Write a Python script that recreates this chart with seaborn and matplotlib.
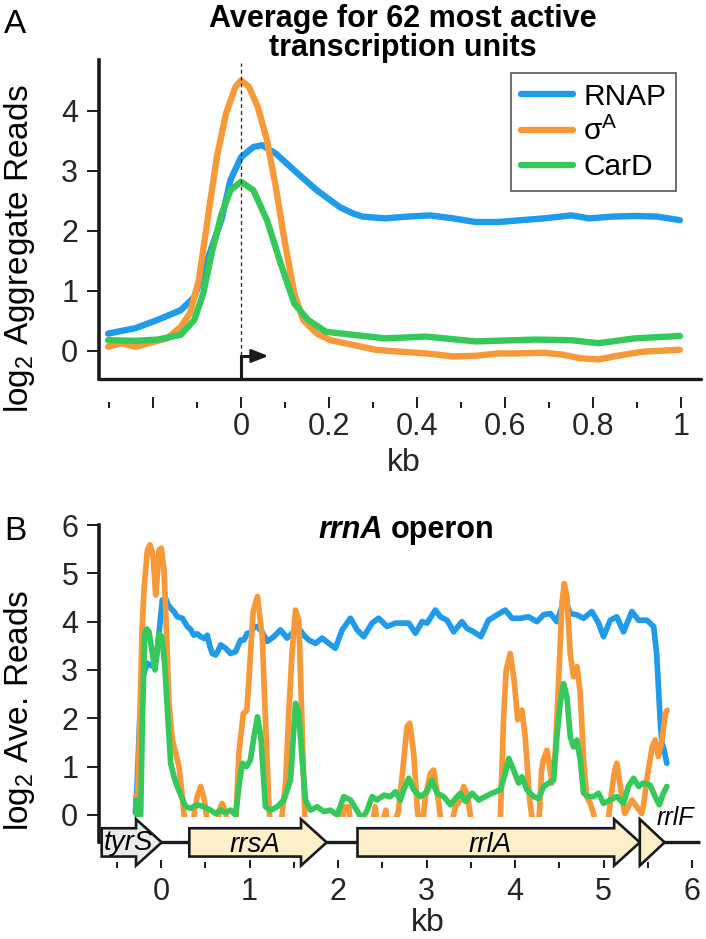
import numpy as np
import pandas as pd
import seaborn as sns
import matplotlib.pyplot as plt
from matplotlib.patches import Polygon, Rectangle
from matplotlib.ticker import FixedLocator

# %% panel A: average of 62 most active TUs (kb from TSS vs log2 aggregate reads)
rnap_a_kb = [-0.302, -0.240, -0.189, -0.137, -0.106, -0.075, -0.044, -0.024, 0.0, 0.028, 0.048, 0.079,
             0.121, 0.172, 0.224, 0.255, 0.276, 0.327, 0.378, 0.430, 0.482, 0.533, 0.585, 0.636,
             0.688, 0.750, 0.791, 0.843, 0.894, 0.946, 0.997]
rnap_a = [0.29, 0.38, 0.52, 0.68, 0.90, 1.55, 2.20, 2.85, 3.23, 3.40, 3.43, 3.29,
          3.01, 2.68, 2.40, 2.29, 2.24, 2.21, 2.24, 2.26, 2.21, 2.15, 2.15, 2.18,
          2.21, 2.26, 2.21, 2.24, 2.25, 2.24, 2.18]
sigA_a_kb = [-0.302, -0.271, -0.240, -0.209, -0.168, -0.137, -0.116, -0.096, -0.075, -0.055, -0.034, -0.013,
             0.0, 0.018, 0.038, 0.059, 0.079, 0.100, 0.121, 0.141, 0.172, 0.203, 0.255, 0.306,
             0.358, 0.420, 0.482, 0.533, 0.585, 0.636, 0.688, 0.729, 0.770, 0.812, 0.863, 0.915, 0.997]
sigA_a = [0.07, 0.13, 0.07, 0.13, 0.21, 0.40, 0.63, 1.18, 2.24, 3.23, 3.96, 4.40,
          4.51, 4.40, 4.07, 3.51, 2.73, 1.79, 0.96, 0.52, 0.29, 0.18, 0.10, 0.02,
          -0.01, -0.04, -0.09, -0.08, -0.04, -0.04, -0.03, -0.06, -0.12, -0.14, -0.07, -0.01, 0.02]
card_a_kb = [-0.302, -0.240, -0.189, -0.137, -0.106, -0.086, -0.065, -0.044, -0.024, 0.0, 0.028, 0.059,
             0.090, 0.121, 0.152, 0.193, 0.255, 0.327, 0.420, 0.533, 0.667, 0.750, 0.812, 0.894, 0.997]
card_a = [0.18, 0.17, 0.19, 0.27, 0.52, 0.96, 1.68, 2.29, 2.68, 2.82, 2.68, 2.18,
          1.46, 0.79, 0.52, 0.32, 0.27, 0.21, 0.24, 0.16, 0.19, 0.18, 0.13, 0.21, 0.25]
a_ticks = [-0.2, 0.0, 0.2, 0.4, 0.6, 0.8, 1.0]
a_ticklabels = ["", "0", "0.2", "0.4", "0.6", "0.8", "1"]
a_minor = [-0.3, -0.1, 0.1, 0.3, 0.5, 0.7, 0.9]

# %% panel B: rrnA operon
rnap_b_kb = [-0.29, -0.27, -0.24, -0.20, -0.154, -0.12, -0.079, -0.05, -0.022, 0.015, 0.053, 0.08, 0.109,
             0.15, 0.184, 0.241, 0.297, 0.33, 0.372, 0.41, 0.448, 0.49, 0.523, 0.55, 0.58, 0.617, 0.645,
             0.674, 0.73, 0.786, 0.843, 0.899, 0.937, 0.974, 1.01, 1.05, 1.09, 1.14, 1.2, 1.275, 1.35,
             1.425, 1.5, 1.557, 1.614, 1.67, 1.746, 1.82, 1.896, 1.97, 2.047, 2.14, 2.216, 2.29, 2.385,
             2.46, 2.554, 2.65, 2.7, 2.8, 2.875, 2.95, 3.006, 3.1, 3.157, 3.232, 3.307, 3.4, 3.458,
             3.533, 3.615, 3.7, 3.796, 3.89, 3.966, 4.06, 4.153, 4.248, 4.32, 4.398, 4.473, 4.53, 4.567,
             4.624, 4.7, 4.775, 4.868, 4.944, 5.0, 5.076, 5.15, 5.226, 5.32, 5.396, 5.49, 5.566, 5.6,
             5.62, 5.64, 5.66, 5.685, 5.715]
rnap_b = [0.05, 0.6, 2.0, 2.9, 3.14, 3.1, 3.07, 3.3, 3.76, 4.45, 4.48, 4.35, 4.28,
          4.2, 4.10, 4.07, 3.90, 3.85, 3.72, 3.75, 3.69, 3.65, 3.72, 3.5, 3.34, 3.31, 3.4,
          3.52, 3.45, 3.34, 3.38, 3.62, 3.62, 3.76, 3.76, 3.88, 3.90, 3.79, 3.59, 3.69, 3.83,
          3.66, 3.79, 3.86, 3.72, 3.62, 3.55, 3.66, 3.55, 3.45, 3.83, 4.07, 3.83, 3.69, 3.97,
          4.07, 3.90, 3.97, 3.97, 3.97, 3.76, 4.0, 3.97, 4.24, 4.10, 4.03, 3.79, 4.0, 3.86,
          3.79, 3.69, 4.03, 4.14, 4.24, 4.07, 4.07, 4.10, 4.0, 4.14, 4.17, 4.0, 4.31, 4.45,
          4.17, 4.14, 4.07, 4.21, 3.97, 3.69, 4.03, 4.10, 3.79, 4.21, 4.03, 4.03, 3.90, 3.34,
          2.66, 1.97, 1.48, 1.34, 1.07]
sigA_b_kb = [-0.285, -0.27, -0.245, -0.215, -0.19, -0.154, -0.124, -0.1, -0.086, -0.06, -0.04, -0.022, 0.004,
             0.034, 0.064, 0.09, 0.128, 0.166, 0.203, 0.229, 0.26, 0.29, 0.36, 0.38, 0.41, 0.448, 0.49,
             0.52, 0.54, 0.63, 0.66, 0.69, 0.73, 0.76, 0.843, 0.86, 0.88, 0.93, 0.97, 1.0, 1.04, 1.09,
             1.144, 1.18, 1.22, 1.24, 1.35, 1.38, 1.41, 1.44, 1.48, 1.52, 1.557, 1.58, 1.614, 1.63,
             2.03, 2.06, 2.08, 2.12, 2.15, 2.38, 2.42, 2.45, 2.5, 2.54, 2.56, 2.6, 2.68, 2.73, 2.78,
             2.81, 2.855, 2.9, 2.93, 2.96, 2.987, 3.044, 3.08, 3.138, 3.175, 3.27, 3.326, 3.383, 3.42,
             3.466, 3.515, 3.83, 3.87, 3.9, 3.946, 3.99, 4.03, 4.078, 4.115, 4.165, 4.21, 4.266, 4.3,
             4.32, 4.36, 4.40, 4.416, 4.454, 4.49, 4.53, 4.556, 4.586, 4.624, 4.66, 4.7, 4.737, 4.775,
             4.81, 4.85, 4.887, 4.92, 5.04, 5.08, 5.12, 5.15, 5.19, 5.24, 5.28, 5.32, 5.376, 5.43,
             5.45, 5.5, 5.55, 5.583, 5.62, 5.66, 5.7, 5.72]
sigA_b = [0.38, 0.0, 1.5, 3.8, 4.72, 5.48, 5.59, 5.45, 5.28, 4.55, 5.0, 5.48, 5.52,
          5.07, 3.69, 2.31, 1.55, 1.28, 1.0, 0.59, 0.03, -0.3, -0.3, 0.1, 0.38, 0.59, 0.31,
          -0.1, -0.3, -0.3, 0.1, 0.24, 0.05, -0.3, -0.3, 0.5, 1.28, 2.1, 2.17, 3.0, 4.2, 4.52,
          3.69, 1.97, 0.17, -0.3, -0.3, 0.2, 0.72, 1.97, 3.34, 4.24, 4.03, 2.66, 0.59, -0.3,
          -0.3, 0.05, 0.17, 0.17, -0.3, -0.3, 0.17, -0.3, -0.2, 0.10, -0.3, -0.3, 0.05, 0.9, 1.83,
          1.90, 1.28, 0.03, -0.3, -0.1, 0.38, 0.86, 0.93, 0.24, -0.3, -0.3, 0.17, 0.31, 0.59,
          0.38, -0.3, -0.3, 1.97, 3.0, 3.34, 2.79, 1.97, 2.17, 1.62, 0.31, -0.3, -0.3, 0.93,
          1.14, 1.34, 0.9, 0.66, 1.28, 2.66, 4.38, 4.79, 4.52, 3.34, 2.86, 3.07, 2.52, 1.14,
          0.38, 0.24, 0.03, -0.3, -0.3, 0.31, 0.86, 1.07, 0.59, 0.03, 0.17, 0.31, 0.17, 0.03,
          0.17, 0.86, 1.41, 1.55, 1.21, 1.55, 2.10, 2.17]
card_b_kb = [-0.285, -0.27, -0.23, -0.21, -0.184, -0.16, -0.135, -0.098, -0.068, -0.045, -0.022, 0.008, 0.041,
             0.079, 0.109, 0.147, 0.184, 0.23, 0.28, 0.335, 0.41, 0.485, 0.56, 0.617, 0.674, 0.73, 0.786,
             0.843, 0.88, 0.918, 0.967, 1.01, 1.05, 1.09, 1.128, 1.18, 1.24, 1.313, 1.388, 1.463, 1.52,
             1.557, 1.595, 1.633, 1.69, 1.765, 1.84, 1.915, 1.99, 2.065, 2.14, 2.235, 2.27, 2.33, 2.385,
             2.44, 2.517, 2.59, 2.65, 2.705, 2.742, 2.8, 2.855, 2.93, 3.006, 3.06, 3.12, 3.194, 3.27,
             3.326, 3.383, 3.44, 3.515, 3.59, 3.664, 3.74, 3.834, 3.89, 3.93, 3.984, 4.04, 4.078, 4.135,
             4.21, 4.266, 4.323, 4.38, 4.435, 4.473, 4.51, 4.548, 4.586, 4.624, 4.66, 4.7, 4.737, 4.775,
             4.83, 4.887, 4.944, 5.0, 5.076, 5.15, 5.226, 5.28, 5.34, 5.396, 5.45, 5.526, 5.583, 5.63,
             5.676, 5.715]
card_b = [0.31, 0.0, 0.0, 1.97, 3.76, 3.85, 3.79, 3.34, 3.0, 3.4, 3.76, 3.69, 3.14,
          1.97, 1.07, 0.79, 0.59, 0.38, 0.17, 0.14, 0.21, 0.17, 0.10, 0.03, 0.10, 0.05, 0.10,
          0.0, 0.59, 1.07, 1.0, 1.14, 1.62, 2.03, 1.62, 0.17, 0.10, 0.17, 0.31, 0.72, 2.31,
          2.10, 1.14, 0.31, 0.10, 0.17, 0.07, 0.10, 0.0, 0.38, 0.31, 0.03, -0.1, 0.10, 0.38,
          0.31, 0.41, 0.38, 0.48, 0.31, 0.52, 0.76, 0.52, 0.38, 0.48, 0.72, 0.45, 0.38, 0.21,
          0.34, 0.45, 0.28, 0.45, 0.31, 0.38, 0.45, 0.52, 0.86, 1.17, 0.93, 0.66, 0.79, 0.52,
          0.38, 0.34, 0.59, 0.66, 0.72, 1.62, 2.31, 2.72, 2.45, 1.62, 1.41, 1.55, 1.14, 0.45,
          0.38, 0.38, 0.45, 0.24, 0.31, 0.38, 0.24, 0.59, 0.76, 0.59, 0.66, 0.62, 0.38, 0.21,
          0.45, 0.59]
b_ticks = [0, 1, 2, 3, 4, 5, 6]
b_minor = [-0.5, 0.5, 1.5, 2.5, 3.5, 4.5, 5.5]

# genes in the rrnA region (kb)
gene_names = ["tyrS", "rrsA", "rrlA", "rrlF"]
gene_start = [-0.67, 0.32, 2.22, 5.41]
gene_end = [0.008, 1.872, 5.41, 5.69]

colors = {"RNAP": "#1E9BEA", "sigA": "#F89939", "CarD": "#35C85B"}

sns.set_theme(style="white")
plt.rcParams["font.family"] = ["Liberation Sans", "DejaVu Sans"]
plt.rcParams["mathtext.fontset"] = "custom"
plt.rcParams["mathtext.rm"] = "Liberation Sans"
plt.rcParams["mathtext.it"] = "Liberation Sans:italic"
plt.rcParams["mathtext.bf"] = "Liberation Sans:bold"
plt.rcParams["text.color"] = "black"

W, H = 706, 939
fig = plt.figure(figsize=(W / 100, H / 100), dpi=100)

def box(l, t, r, b):
    return [l / W, 1 - b / H, (r - l) / W, (b - t) / H]

tick_fs = 22
# %% panel A
ax = fig.add_axes(box(98.6, 60, 701, 379))
lw_a = 4.6
sns.lineplot(x=rnap_a_kb, y=rnap_a, ax=ax, color=colors["RNAP"], lw=lw_a, label="RNAP")
sns.lineplot(x=sigA_a_kb, y=sigA_a, ax=ax, color=colors["sigA"], lw=lw_a, label=r"σ$^\mathregular{A}$")
sns.lineplot(x=card_a_kb, y=card_a, ax=ax, color=colors["CarD"], lw=lw_a, label="CarD")
ax.set_xlim(-0.3236, 1.045)
ax.set_ylim(-0.467, 4.85)
ax.plot([0, 0], [-0.06, 4.8], color="k", lw=0.9, ls=(0, (3, 2.5)))
ax.plot([0, 0, 0.04], [-0.467, -0.083, -0.083], color="k", lw=2.2, solid_joinstyle="miter",
        solid_capstyle="butt", clip_on=False)
ax.annotate("", xy=(0.062, -0.083), xytext=(0.03, -0.083),
            arrowprops=dict(arrowstyle="-|>,head_length=1.0,head_width=0.4", color="k",
                            lw=2.0, mutation_scale=10, shrinkA=0, shrinkB=0))
ax.axhline(-0.467, color="k", lw=2.4, clip_on=False)
for s in ["top", "right"]:
    ax.spines[s].set_visible(False)
ax.spines["left"].set_linewidth(2.6)
ax.spines["left"].set_color("k")
ax.spines["bottom"].set_color("none")
ax.spines["bottom"].set_position(("outward", 20.9))
ax.xaxis.set_major_locator(FixedLocator(a_ticks))
ax.xaxis.set_minor_locator(FixedLocator(a_minor))
ax.set_xticklabels(a_ticklabels)
ax.set_yticks([0, 1, 2, 3, 4])
ax.tick_params(axis="x", which="major", direction="in", length=8, width=1.4, color="k",
               labelsize=tick_fs, pad=3.2, bottom=True)
ax.tick_params(axis="x", which="minor", direction="in", length=4.5, width=1.4, color="k", bottom=True)
ax.tick_params(axis="y", direction="out", length=8.6, width=1.4, color="k", labelsize=tick_fs,
               pad=6.0, left=True)
ax.set_xlabel("kb", fontsize=23)
ax.xaxis.set_label_coords(0.507, -0.215)
leg = ax.legend(loc="upper right", bbox_to_anchor=(0.9585, 0.959), borderaxespad=0, fontsize=21.5,
                frameon=True, fancybox=False, edgecolor="k", handlelength=1.75, handletextpad=0.35,
                borderpad=0.32, labelspacing=0.22)
leg.get_frame().set_linewidth(1.1)
for h in leg.get_lines():
    h.set_linewidth(lw_a)

fig.text(20 / W, 1 - 249 / H, r"log$_\mathregular{2}$ Aggregate Reads", rotation=90,
         ha="center", va="center", fontsize=24)
fig.text(403 / W, 1 - 26.7 / H, "Average for 62 most active", ha="center", va="baseline",
         fontsize=22, fontweight="bold")
fig.text(403 / W, 1 - 56 / H, "transcription units", ha="center", va="baseline",
         fontsize=22, fontweight="bold")
fig.text(4 / W, 1 - 33 / H, "A", ha="left", va="baseline", fontsize=24)

# %% panel B
bx = fig.add_axes(box(98.6, 525, 700, 868))
lw_b = 4.1
clip = Rectangle((-0.705, -0.05), 7.0, 6.2, transform=bx.transData)
for xs, ys, key in [(rnap_b_kb, rnap_b, "RNAP"), (sigA_b_kb, sigA_b, "sigA"), (card_b_kb, card_b, "CarD")]:
    sns.lineplot(x=xs, y=ys, ax=bx, color=colors[key], lw=lw_b, legend=False)
    bx.lines[-1].set_clip_path(clip)
bx.set_xlim(-0.705, 6.09)
bx.set_ylim(-1.097, 6)

c, bh, hh, hl = -0.567, 0.293, 0.48, 0.29
bx.plot([-0.705, 6.09], [c, c], color="k", lw=2.4, solid_capstyle="butt", clip_on=False)
for name, s, e in zip(gene_names, gene_start, gene_end):
    if e - s > hl + 0.01:
        verts = [(s, c - bh), (e - hl, c - bh), (e - hl, c - hh), (e, c), (e - hl, c + hh),
                 (e - hl, c + bh), (s, c + bh)]
    else:
        verts = [(s, c - hh), (e, c), (s, c + hh)]
    fc = "#EBEBEB" if name == "tyrS" else "#FDF0C9"
    bx.add_patch(Polygon(verts, closed=True, fc=fc, ec="k", lw=1.9, joinstyle="miter",
                         clip_on=False, zorder=3))
bx.text(-0.373, -0.73, "tyrS", style="italic", fontsize=20, ha="center", va="baseline", zorder=4)
bx.text(1.062, -0.77, "rrsA", style="italic", fontsize=20, ha="center", va="baseline", zorder=4)
bx.text(3.72, -0.77, "rrlA", style="italic", fontsize=20, ha="center", va="baseline", zorder=4)
bx.text(5.81, -0.207, "rrlF", style="italic", fontsize=18, ha="center", va="baseline", zorder=4)

for s in ["top", "right"]:
    bx.spines[s].set_visible(False)
bx.spines["left"].set_linewidth(2.6)
bx.spines["left"].set_color("k")
bx.spines["left"].set_bounds(c, 6)
bx.spines["bottom"].set_color("none")
bx.xaxis.set_major_locator(FixedLocator(b_ticks))
bx.xaxis.set_minor_locator(FixedLocator(b_minor))
bx.set_yticks([0, 1, 2, 3, 4, 5, 6])
bx.tick_params(axis="x", which="major", direction="in", length=6, width=1.4, color="k",
               labelsize=tick_fs, pad=6.5, bottom=True)
bx.tick_params(axis="x", which="minor", direction="in", length=4, width=1.4, color="k", bottom=True)
bx.tick_params(axis="y", direction="out", length=8.6, width=1.4, color="k", labelsize=tick_fs,
               pad=6.0, left=True)
bx.set_xlabel("kb", fontsize=23)
bx.xaxis.set_label_coords(0.547, -0.118)
fig.text(19.5 / W, 1 - 710 / H, r"log$_\mathregular{2}$ Ave. Reads", rotation=90,
         ha="center", va="center", fontsize=24)
fig.text(383 / W, 1 - 538 / H, "rrnA", ha="right", va="baseline", fontsize=22, fontweight="bold",
         style="italic")
fig.text(391 / W, 1 - 538 / H, "operon", ha="left", va="baseline", fontsize=22, fontweight="bold")
fig.text(4 / W, 1 - 540 / H, "B", ha="left", va="baseline", fontsize=24)

fig.savefig("out.png", dpi=100)
